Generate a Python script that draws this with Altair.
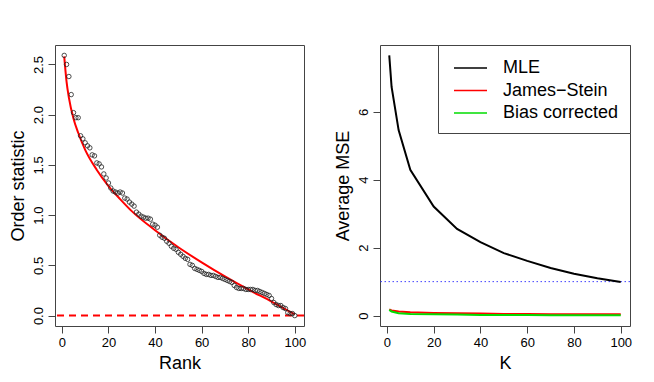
import altair as alt
import pandas as pd

# ---------------- Left panel data ----------------
ranks = list(range(1, 101))
order_stat = [
    2.59, 2.50, 2.38, 2.20, 2.02, 1.97, 1.97, 1.79, 1.76, 1.72,
    1.69, 1.67, 1.60, 1.59, 1.52, 1.51, 1.48, 1.41, 1.37, 1.32,
    1.27, 1.24, 1.23, 1.22, 1.23, 1.22, 1.17, 1.16, 1.13, 1.11,
    1.09, 1.03, 1.01, 0.99, 0.98, 0.97, 0.97, 0.96, 0.91, 0.90,
    0.88, 0.80, 0.78, 0.77, 0.74, 0.72, 0.69, 0.67, 0.66, 0.63,
    0.61, 0.59, 0.57, 0.56, 0.51, 0.50, 0.47, 0.46, 0.45, 0.44,
    0.42, 0.41, 0.41, 0.40, 0.40, 0.39, 0.38, 0.38, 0.37, 0.36,
    0.35, 0.34, 0.33, 0.30, 0.28, 0.27, 0.27, 0.27, 0.26, 0.26,
    0.26, 0.26, 0.25, 0.25, 0.24, 0.23, 0.22, 0.21, 0.20, 0.17,
    0.13, 0.11, 0.10, 0.10, 0.08, 0.07, 0.03, 0.02, 0.02, 0.00,
]
curve_rank = [1, 2, 3, 5, 7, 10, 15, 20, 25, 30, 40, 50, 60, 70, 80, 90, 100]
curve_val = [2.58, 2.33, 2.17, 1.96, 1.82, 1.65, 1.45, 1.29, 1.16, 1.04,
             0.85, 0.68, 0.53, 0.39, 0.26, 0.14, 0.012]
zero_line = [0.0]

# ---------------- Right panel data ----------------
K = [1, 2, 5, 10, 20, 30, 40, 50, 60, 70, 80, 90, 100]
mle = [7.66, 6.73, 5.46, 4.29, 3.21, 2.55, 2.16, 1.84, 1.61, 1.40, 1.23, 1.10, 0.99]
james_stein = [0.18, 0.15, 0.12, 0.10, 0.08, 0.07, 0.06, 0.05, 0.05, 0.04, 0.04, 0.04, 0.04]
bias_corr = [0.17, 0.12, 0.07, 0.05, 0.04, 0.03, 0.02, 0.02, 0.015, 0.01, 0.01, 0.01, 0.01]
series_names = ["MLE", "James\u2212Stein", "Bias corrected"]
series_colors = ["black", "red", "#00DD00"]
one_line = [1.0]

FONT = "Liberation Sans"

pts_df = pd.DataFrame({"rank": ranks, "os": order_stat})
curve_df = pd.DataFrame({"rank": curve_rank, "os": curve_val})
zero_df = pd.DataFrame({"y": zero_line})

x_left = alt.Scale(domain=[-2.96, 103.96], nice=False, zero=False)
y_left = alt.Scale(domain=[-0.1036, 2.6936], nice=False, zero=False)

pts = alt.Chart(pts_df).mark_point(
    shape="circle", filled=False, color="#222", size=20, strokeWidth=0.8, opacity=1
).encode(
    x=alt.X("rank:Q", scale=x_left,
            axis=alt.Axis(values=[0, 20, 40, 60, 80, 100], format="d", title="Rank")),
    y=alt.Y("os:Q", scale=y_left,
            axis=alt.Axis(values=[0, 0.5, 1.0, 1.5, 2.0, 2.5], format=".1f",
                          title="Order statistic")),
)
curve = alt.Chart(curve_df).mark_line(color="red", strokeWidth=2, interpolate="monotone").encode(
    x=alt.X("rank:Q", scale=x_left), y=alt.Y("os:Q", scale=y_left)
)
zero_rule = alt.Chart(zero_df).mark_rule(color="red", strokeWidth=2, strokeDash=[7, 5]).encode(
    y=alt.Y("y:Q", scale=y_left)
)
left = alt.layer(zero_rule, curve, pts).properties(width=249, height=281)

rows = []
for name, vals in zip(series_names, [mle, james_stein, bias_corr]):
    for k, v in zip(K, vals):
        rows.append({"K": k, "mse": v, "series": name})
mse_df = pd.DataFrame(rows)
one_df = pd.DataFrame({"y": one_line})

x_right = alt.Scale(domain=[-2.96, 103.96], nice=False, zero=False)
y_right = alt.Scale(domain=[-0.306, 7.966], nice=False, zero=False)

lines = alt.Chart(mse_df).mark_line(strokeWidth=2).encode(
    x=alt.X("K:Q", scale=x_right,
            axis=alt.Axis(values=[0, 20, 40, 60, 80, 100], format="d", title="K")),
    y=alt.Y("mse:Q", scale=y_right,
            axis=alt.Axis(values=[0, 2, 4, 6], format="d", title="Average MSE")),
    color=alt.Color("series:N",
                    scale=alt.Scale(domain=series_names, range=series_colors),
                    sort=series_names,
                    legend=alt.Legend(
                        title=None, orient="top-right", offset=0,
                        fillColor="white", strokeColor="#444",
                        padding=11, rowPadding=1.5, symbolOffset=9.5,
                        labelFont=FONT, labelFontSize=18, labelColor="black",
                        labelOffset=20.5, symbolType="M-1.5,0H1.5", symbolSize=484,
                        symbolStrokeWidth=1.5, labelLimit=300,
                    )),
    order=alt.Order("K:Q"),
)
one_rule = alt.Chart(one_df).mark_rule(color="#4040FF", strokeWidth=1, strokeDash=[1.5, 2.5]).encode(
    y=alt.Y("y:Q", scale=y_right)
)
right = alt.layer(one_rule, lines).properties(width=250, height=281)

chart = alt.hconcat(left, right, spacing=26).resolve_legend(
    color="independent"
).resolve_scale(
    color="independent"
).properties(
    padding={"left": 0, "top": 36, "right": 0, "bottom": 0}
).configure(
    font=FONT
).configure_view(
    stroke="#444", strokeWidth=1
).configure_axis(
    labelFont=FONT, titleFont=FONT, labelFontSize=13, titleFontSize=18,
    titleFontWeight="normal", labelColor="black", titleColor="black",
    tickColor="#444", tickSize=7, domain=False, grid=False,
).configure_axisX(
    labelPadding=3, titlePadding=5
).configure_axisY(
    labelAngle=270, labelAlign="center", labelBaseline="bottom",
    labelPadding=3, titlePadding=5
)

chart.save("out.html", embed_options={"renderer": "svg", "actions": False})
